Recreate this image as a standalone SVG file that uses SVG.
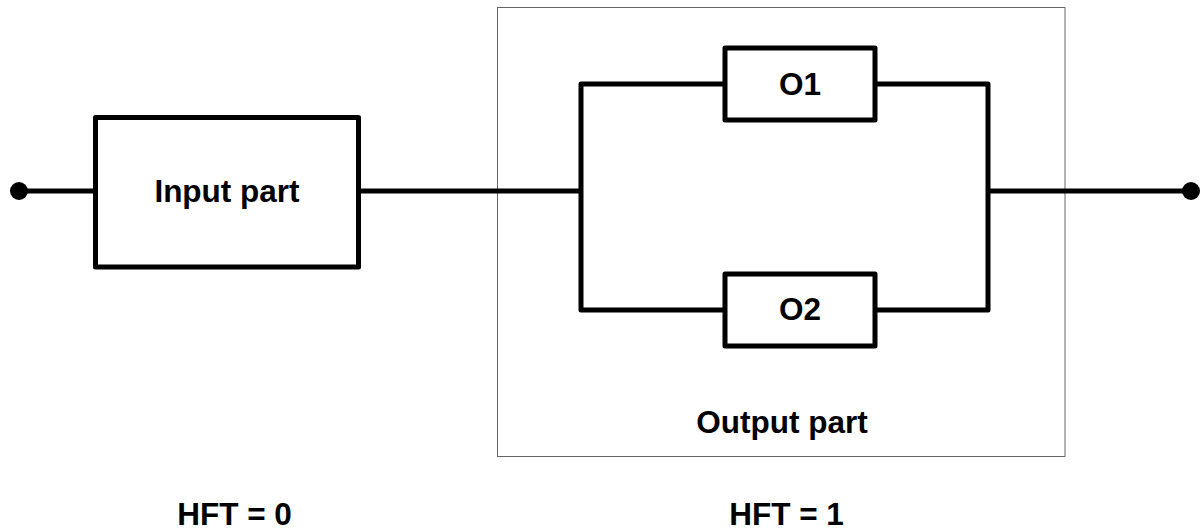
<svg xmlns="http://www.w3.org/2000/svg" width="1203" height="531" viewBox="0 0 1203 531">
  <style>
    .blk { fill: #ffffff; stroke: #000000; stroke-width: 5; stroke-linejoin: round; }
    .wire { fill: none; stroke: #000000; stroke-width: 5; stroke-linejoin: round; }
    .frame { fill: none; stroke: #666666; stroke-width: 1; }
    .lbl { font-family: "Liberation Sans", Arial, sans-serif; font-weight: bold; font-size: 31.5px; fill: #000000; text-anchor: middle; }
  </style>
  <rect width="1203" height="531" fill="#ffffff"/>
  <g id="output-part">
    <rect class="frame" x="497.5" y="7.5" width="567.5" height="449"/>
    <text class="lbl" x="782" y="433">Output part</text>
  </g>
  <g id="connectors">
    <line class="wire" x1="19" y1="191" x2="96" y2="191"/>
    <line class="wire" x1="358" y1="191" x2="581" y2="191"/>
    <polyline class="wire" points="725,84 581,84 581,310 725,310"/>
    <polyline class="wire" points="875,84 988,84 988,310 875,310"/>
    <line class="wire" x1="988" y1="191" x2="1191" y2="191"/>
    <circle cx="19" cy="191" r="9" fill="#000000"/>
    <circle cx="1191" cy="191" r="9" fill="#000000"/>
  </g>
  <g id="input-part">
    <rect class="blk" x="95.5" y="117.5" width="263" height="149.5"/>
    <text class="lbl" x="227" y="202">Input part</text>
  </g>
  <g id="o1">
    <rect class="blk" x="725" y="48" width="150" height="72"/>
    <text class="lbl" x="800" y="95">O1</text>
  </g>
  <g id="o2">
    <rect class="blk" x="725" y="274" width="150" height="72"/>
    <text class="lbl" x="800" y="320">O2</text>
  </g>
  <g id="hft0">
    <text class="lbl" x="234.5" y="525">HFT = 0</text>
  </g>
  <g id="hft1">
    <text class="lbl" x="786.5" y="525">HFT = 1</text>
  </g>
</svg>
